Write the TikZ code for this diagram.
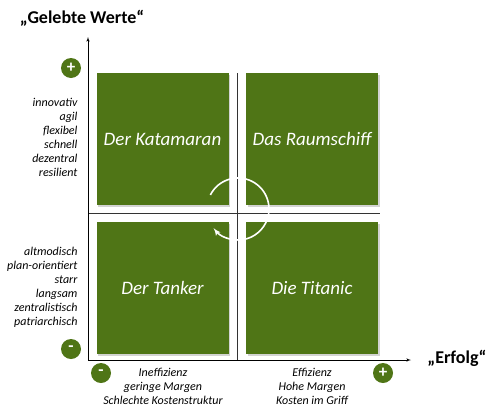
\documentclass[tikz,border=0pt]{standalone}
\usepackage{fontspec}
\setmainfont{Carlito}
\usepackage{tikz}
\usetikzlibrary{arrows, shadows}
\definecolor{boxgreen}{RGB}{79,117,22}
\tikzset{quad/.style = {shape=rectangle,fill=boxgreen,minimum width=132pt,minimum height=132pt,inner sep=0pt,
  drop shadow={opacity=0.35,shadow xshift=1.5pt,shadow yshift=-1.5pt}}}
\tikzset{quadlabel/.style = {text=white,font=\fontsize{19}{21}\selectfont\itshape}}
\tikzset{badge/.style = {shape=circle,fill=boxgreen,text=white,minimum size=20pt,inner sep=0pt,font=\fontsize{17}{17}\selectfont\bfseries}}
\tikzset{traits/.style = {align=right,anchor=east,font=\fontsize{12}{14}\selectfont\itshape}}
\tikzset{effects/.style = {align=center,anchor=north,font=\fontsize{12}{14}\selectfont\itshape}}
\tikzset{axistitle/.style = {font=\fontsize{18}{20}\selectfont\bfseries}}
\tikzset{edge/.style = {->,> = latex',line width=0.6pt}}
\tikzset{divider/.style = {line width=0.5pt,black!80}}
\tikzset{turn/.style = {->,> = latex',white,line width=1.6pt}}

\begin{document}
\begin{tikzpicture}[x=1pt,y=-1pt]
                \useasboundingbox (0,0) rectangle (500,418);
                \coordinate (o) at (88,360);
                \coordinate (ytop) at (88,37);
                \coordinate (xend) at (411,360);
                \coordinate (vtop) at (237,73);
                \coordinate (vbot) at (237,360);
                \coordinate (hleft) at (88,213);
                \coordinate (hright) at (380,213);
                \node[quad] (kat) at (162.5,139) {};
                \node[quad] (raum) at (312,139) {};
                \node[quad] (tank) at (162.5,288) {};
                \node[quad] (tit) at (312,288) {};
                \node[quadlabel] at (kat) {Der Katamaran};
                \node[quadlabel] at (raum) {Das Raumschiff};
                \node[quadlabel] at (tank) {Der Tanker};
                \node[quadlabel] at (tit) {Die Titanic};
                \draw[divider] (vtop) -- (vbot);
                \draw[divider] (hleft) -- (hright);
                \draw[edge] (o) -- (ytop);
                \draw[edge] (o) -- (xend);
                \coordinate (mid) at (238,209);
                \draw[turn] (mid) ++(-153:31) arc[start angle=-153,end angle=142,radius=31];
                \node[axistitle] (werte) at (82,18) {„Gelebte Werte“};
                \node[axistitle] (erfolg) at (457,358) {„Erfolg“};
                \node[badge] (yplus) at (71,68) {+};
                \node[badge] (yminus) at (71,349) {-};
                \node[badge] (xminus) at (101,373) {-};
                \node[badge] (xplus) at (383,373) {+};
                \node[traits] (high) at (81,137) {innovativ\\agil\\flexibel\\schnell\\dezentral\\resilient};
                \node[traits] (low) at (81,287) {altmodisch\\plan-orientiert\\starr\\langsam\\zentralistisch\\patriarchisch};
                \node[effects] (ineff) at (163,365) {Ineffizienz\\geringe Margen\\Schlechte Kostenstruktur};
                \node[effects] (eff) at (312,365) {Effizienz\\Hohe Margen\\Kosten im Griff};
            \end{tikzpicture}
\end{document}
